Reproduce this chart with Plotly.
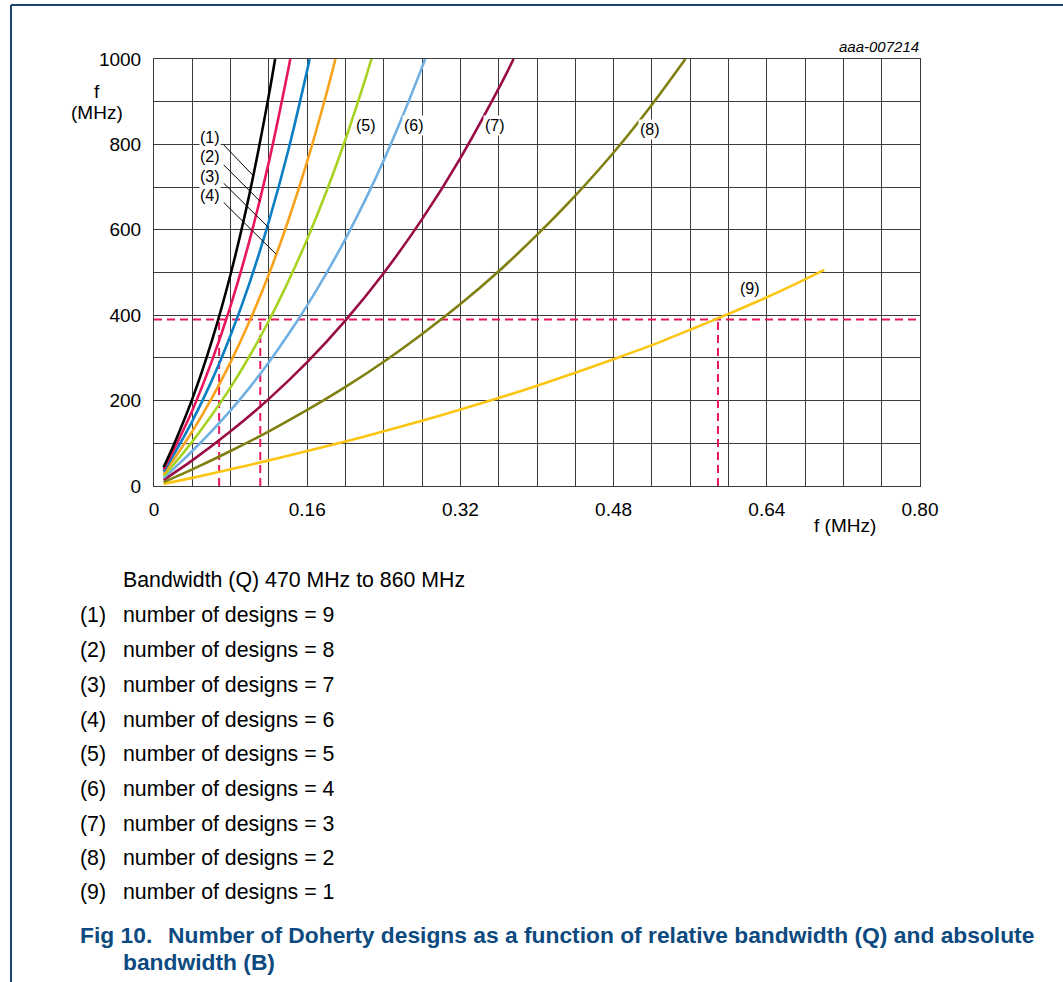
import plotly.graph_objects as go

# ---------------- data ----------------
curve1_q = [0.01, 0.02, 0.04, 0.06, 0.08, 0.10, 0.12, 0.1265]
curve1_f = [44, 93, 204, 337, 496, 687, 916, 1000]
curve2_q = [0.01, 0.02, 0.04, 0.06, 0.08, 0.10, 0.12, 0.14, 0.1423]
curve2_f = [39, 82, 177, 290, 422, 577, 759, 973, 1000]
curve3_q = [0.01, 0.02, 0.04, 0.06, 0.08, 0.10, 0.12, 0.14, 0.16, 0.1625]
curve3_f = [34, 71, 152, 245, 353, 477, 620, 784, 974, 1000]
curve4_q = [0.01, 0.02, 0.04, 0.06, 0.08, 0.10, 0.12, 0.14, 0.16, 0.18, 0.1895]
curve4_f = [29, 60, 128, 204, 290, 387, 496, 620, 760, 918, 1000]
curve5_q = [0.01, 0.02, 0.04, 0.06, 0.08, 0.10, 0.12, 0.14, 0.16, 0.18, 0.20, 0.22, 0.2271]
curve5_f = [24, 49, 104, 165, 231, 305, 387, 478, 578, 689, 812, 948, 1000]
curve6_q = [0.01, 0.02, 0.04, 0.06, 0.08, 0.10, 0.12, 0.14, 0.16, 0.18, 0.20, 0.22, 0.24, 0.26, 0.28, 0.2832]
curve6_f = [19, 39, 82, 128, 177, 231, 290, 354, 423, 498, 579, 667, 763, 868, 981, 1000]
curve7_q = [0.01, 0.04, 0.08, 0.12, 0.16, 0.20, 0.24, 0.28, 0.32, 0.36, 0.3756]
curve7_f = [14, 60, 128, 204, 290, 388, 499, 625, 768, 931, 1000]
curve8_q = [0.01, 0.04, 0.08, 0.12, 0.16, 0.20, 0.24, 0.28, 0.32, 0.36, 0.40, 0.44, 0.48, 0.52, 0.555]
curve8_f = [9, 39, 82, 128, 178, 232, 291, 356, 426, 503, 588, 680, 781, 893, 1000]
curve9_q = [0.01, 0.04, 0.08, 0.12, 0.16, 0.20, 0.24, 0.28, 0.32, 0.36, 0.40, 0.44,
            0.48, 0.52, 0.56, 0.60, 0.64, 0.68, 0.70]
curve9_f = [5, 19, 39, 60, 82, 104, 128, 153, 179, 206, 235, 265,
            297, 330, 366, 403, 442, 484, 506]

curve_labels = ["(1)", "(2)", "(3)", "(4)", "(5)", "(6)", "(7)", "(8)", "(9)"]
num_designs = [9, 8, 7, 6, 5, 4, 3, 2, 1]

ref_level = 390                 # MHz, dashed horizontal
ref_q = [0.068, 0.111, 0.589]   # dashed verticals

x_tickvals = [0, 0.04, 0.08, 0.12, 0.16, 0.20, 0.24, 0.28, 0.32, 0.36, 0.40,
              0.44, 0.48, 0.52, 0.56, 0.60, 0.64, 0.68, 0.72, 0.76, 0.80]
x_ticktext = ["0", "", "", "", "0.16", "", "", "", "0.32", "", "", "",
              "0.48", "", "", "", "0.64", "", "", "", "0.80"]
y_tickvals = [0, 100, 200, 300, 400, 500, 600, 700, 800, 900, 1000]
y_ticktext = ["0", "", "200", "", "400", "", "600", "", "800", "", "1000"]

# ---------------- styling ----------------
colors = ["#000000", "#e8175d", "#0a7fc4", "#f8a21c", "#a6d322",
          "#70b0e2", "#9a0c46", "#7f800f", "#fcc512"]
DASH = "#e8175d"
FONT = "Liberation Sans, Arial, sans-serif"
CAPTION = "#0d4a80"
BORDER = "#1d4272"

W, H = 1063, 982
ML, MR, MT, MB = 154, 143, 59, 496
PW, PH = W - ML - MR, H - MT - MB


def px(xp):
    return (xp - ML) / PW


def py(yp):
    return (H - MB - yp) / PH


def txt(xp, yp, text, size, xanchor="left", color="black"):
    return dict(x=px(xp), y=py(yp), xref="paper", yref="paper", text=text,
                xanchor=xanchor, yanchor="middle", showarrow=False,
                font=dict(size=size, color=color, family=FONT))


fig = go.Figure()

# dashed reference lines
fig.add_trace(go.Scatter(x=[0, 0.8], y=[ref_level, ref_level], mode="lines",
                         line=dict(color=DASH, width=2, dash="8px,5px"),
                         hoverinfo="skip", showlegend=False))
for q in ref_q:
    fig.add_trace(go.Scatter(x=[q, q], y=[0, ref_level], mode="lines",
                             line=dict(color=DASH, width=2, dash="8px,5px"),
                             hoverinfo="skip", showlegend=False))

series = [(curve1_q, curve1_f), (curve2_q, curve2_f), (curve3_q, curve3_f),
          (curve4_q, curve4_f), (curve5_q, curve5_f), (curve6_q, curve6_f),
          (curve7_q, curve7_f), (curve8_q, curve8_f), (curve9_q, curve9_f)]
for i in range(8, -1, -1):
    q, f = series[i]
    fig.add_trace(go.Scatter(x=q, y=f, mode="lines",
                             line=dict(color=colors[i], width=2.6, shape="spline",
                                       smoothing=0.8),
                             name=curve_labels[i], showlegend=False))

ann = []
shapes = []

# labels (1)-(4) with leader lines
lab_y = [817, 771, 726, 681]
lead_start = [(0.0728, 799), (0.0728, 752), (0.0728, 709), (0.0728, 664)]
lead_end = [(0.1031, 728), (0.1111, 666), (0.1197, 605), (0.1275, 543)]
for i in range(4):
    ann.append(dict(x=0.0589, y=lab_y[i], xref="x", yref="y", text=curve_labels[i],
                    xanchor="center", yanchor="middle",
                    showarrow=False, font=dict(size=16, color="black", family=FONT),
                    bgcolor="white", borderpad=0))
    shapes.append(dict(type="line", xref="x", yref="y",
                       x0=lead_start[i][0], y0=lead_start[i][1],
                       x1=lead_end[i][0], y1=lead_end[i][1],
                       line=dict(color="black", width=1)))

other_pos = [(0.2209, 844), (0.272, 844), (0.3562, 844), (0.5179, 835), (0.6222, 463)]
for j, (xq, yf) in enumerate(other_pos):
    ann.append(dict(x=xq, y=yf, xref="x", yref="y", text=curve_labels[4 + j],
                    xanchor="center", yanchor="middle",
                    showarrow=False, font=dict(size=16, color="black", family=FONT),
                    bgcolor="white", borderpad=1))

# axis titles
ann.append(txt(97, 92, "f", 19, "center"))
ann.append(txt(97, 112, "(MHz)", 19, "center"))
ann.append(txt(845, 525, "f (MHz)", 19, "center"))
ann.append(txt(921, 47, "<i>aaa-007214</i>", 15, "right"))

# text below the chart
ann.append(txt(121, 580, "Bandwidth (Q) 470 MHz to 860 MHz", 21.3))
row_y = [615, 650, 685, 720, 754, 789, 824, 858, 892]
for i in range(9):
    ann.append(txt(78, row_y[i], curve_labels[i], 21.3))
    ann.append(txt(121, row_y[i], "number of designs = %d" % num_designs[i], 21.3))

ann.append(txt(78, 935, "<b>Fig 10.</b>", 22.8, color=CAPTION))
ann.append(txt(166, 935,
               "<b>Number of Doherty designs as a function of relative bandwidth (Q) and absolute</b>",
               22.8, color=CAPTION))
ann.append(txt(121, 962, "<b>bandwidth (B)</b>", 22.8, color=CAPTION))

# page border (left and top)
shapes.append(dict(type="line", xref="paper", yref="paper",
                   x0=px(11), y0=py(5), x1=px(11), y1=py(H + 2),
                   line=dict(color=BORDER, width=2)))
shapes.append(dict(type="line", xref="paper", yref="paper",
                   x0=px(11), y0=py(5), x1=px(W + 2), y1=py(5),
                   line=dict(color=BORDER, width=2)))

GRID = "#3c3c3c"
fig.update_layout(
    width=W, height=H,
    margin=dict(l=ML, r=MR, t=MT, b=MB, pad=0),
    paper_bgcolor="white", plot_bgcolor="white",
    font=dict(family=FONT, size=18, color="black"),
    annotations=ann, shapes=shapes,
    xaxis=dict(range=[0, 0.8], tickmode="array", tickvals=x_tickvals, ticktext=x_ticktext,
               showgrid=True, gridcolor=GRID, gridwidth=1, zeroline=False,
               showline=True, mirror=True, linecolor=GRID, linewidth=1,
               ticks="outside", ticklen=6, tickcolor="rgba(0,0,0,0)",
               tickfont=dict(size=19, family=FONT, color="black"), fixedrange=True),
    yaxis=dict(range=[0, 1000], tickmode="array", tickvals=y_tickvals, ticktext=y_ticktext,
               showgrid=True, gridcolor=GRID, gridwidth=1, zeroline=False,
               showline=True, mirror=True, linecolor=GRID, linewidth=1,
               ticks="outside", ticklen=8, tickcolor="rgba(0,0,0,0)",
               tickfont=dict(size=19, family=FONT, color="black"), fixedrange=True),
    showlegend=False,
)

fig.write_html("out.html", config={"displayModeBar": False})
